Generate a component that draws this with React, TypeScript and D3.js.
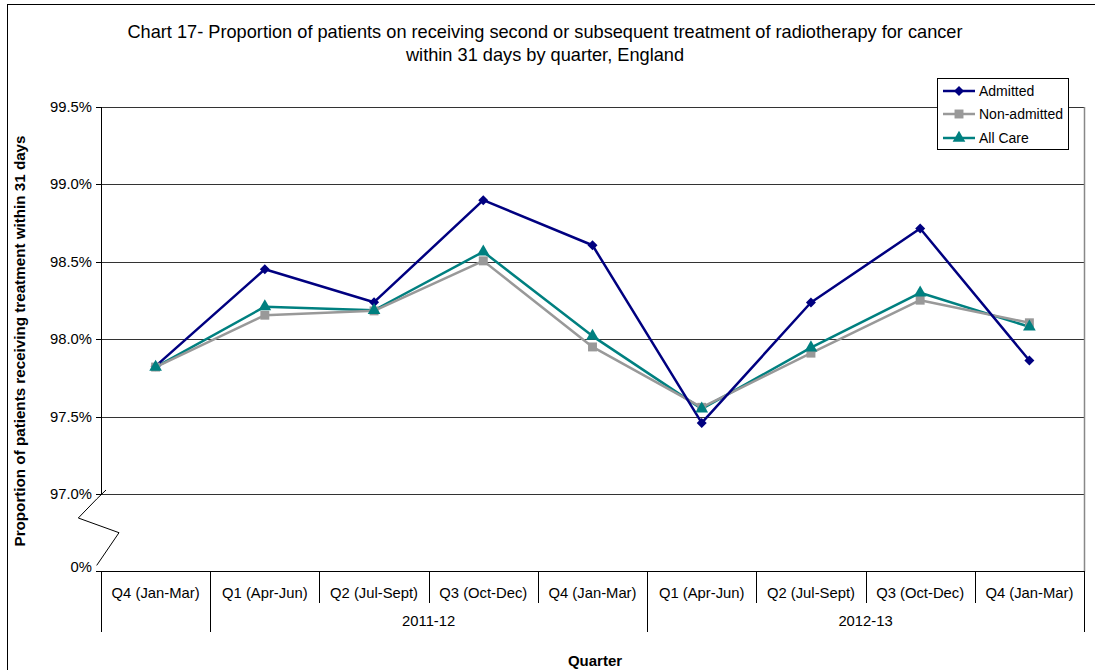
import React from "react";
import * as d3 from "d3";

const categories = [
  "Q4 (Jan-Mar)", "Q1 (Apr-Jun)", "Q2 (Jul-Sept)", "Q3 (Oct-Dec)", "Q4 (Jan-Mar)",
  "Q1 (Apr-Jun)", "Q2 (Jul-Sept)", "Q3 (Oct-Dec)", "Q4 (Jan-Mar)",
];
const groups = [
  { label: "", start: 0, end: 1 },
  { label: "2011-12", start: 1, end: 5 },
  { label: "2012-13", start: 5, end: 9 },
];
const admitted = [97.826, 98.452, 98.239, 98.898, 98.607, 97.459, 98.237, 98.715, 97.862];
const nonAdmitted = [97.82, 98.155, 98.183, 98.506, 97.95, 97.56, 97.91, 98.252, 98.106];
const allCare = [97.82, 98.21, 98.187, 98.565, 98.02, 97.55, 97.945, 98.30, 98.08];
const yTicks = [97.0, 97.5, 98.0, 98.5, 99.0, 99.5];

const series = [
  { name: "Admitted", values: admitted, color: "#000080", symbol: d3.symbolSquare, size: 50, rotate: 45 },
  { name: "Non-admitted", values: nonAdmitted, color: "#999999", symbol: d3.symbolSquare, size: 80, rotate: 0 },
  { name: "All Care", values: allCare, color: "#008080", symbol: d3.symbolTriangle, size: 70, rotate: 0 },
];

const FONT = "'Liberation Sans', Arial, sans-serif";

export default function App() {
  const left = 101, right = 1084, top = 107, axisY = 494;
  const bandH = 77.4;
  const bottom = axisY + bandH; // 0% baseline
  const x = d3.scaleBand<number>().domain(d3.range(categories.length)).range([left, right]).paddingInner(0).paddingOuter(0);
  const y = d3.scaleLinear().domain([97, 99.5]).range([axisY, top]);
  const cx = (i: number) => (x(i) as number) + x.bandwidth() / 2;
  const line = d3.line<number>().x((_, i) => cx(i)).y((v) => y(v));

  return (
    <svg width={1095} height={670} style={{ position: "absolute", left: 0, top: 0, background: "#fff" }} fontFamily={FONT}>
      <rect x={0} y={0} width={1095} height={670} fill="#fff" />
      <rect x={7.5} y={4.5} width={1200} height={800} fill="none" stroke="#000" strokeWidth={1} />
      {/* Title */}
      <text x={545} y={38} textAnchor="middle" fontSize={18.2}>
        Chart 17- Proportion of patients on receiving second or subsequent treatment of radiotherapy for cancer
      </text>
      <text x={545} y={61} textAnchor="middle" fontSize={18.2}>within 31 days by quarter, England</text>

      {/* gridlines */}
      {yTicks.map((t) => (
        <line key={t} x1={left} x2={right} y1={Math.round(y(t)) + 0.5} y2={Math.round(y(t)) + 0.5} stroke="#333" strokeWidth={1} />
      ))}
      {/* plot border right */}
      <line x1={right + 0.5} x2={right + 0.5} y1={top} y2={bottom} stroke="#888" strokeWidth={1.5} />
      {/* y axis */}
      <line x1={left + 0.5} x2={left + 0.5} y1={top} y2={Math.round(axisY) + 0.5} stroke="#000" />
      {yTicks.map((t) => (
        <g key={"t" + t}>
          <line x1={96} x2={left} y1={Math.round(y(t)) + 0.5} y2={Math.round(y(t)) + 0.5} stroke="#000" />
          <text x={92} y={y(t) + 5} textAnchor="end" fontSize={14.8}>{t.toFixed(1)}%</text>
        </g>
      ))}
      {/* axis break */}
      <path
        d={`M106,${axisY - 4} L96.7,${axisY + 5} L78.3,${axisY + 24} L119,${axisY + 38.7} L96.7,${bottom - 6}`}
        fill="none" stroke="#000" strokeWidth={1}
      />
      <line x1={96} x2={left} y1={Math.round(bottom) + 0.5} y2={Math.round(bottom) + 0.5} stroke="#000" />
      <text x={92} y={bottom + 1} textAnchor="end" fontSize={14.8}>0%</text>

      {/* x axis */}
      <line x1={left} x2={right + 1} y1={Math.round(bottom) + 0.5} y2={Math.round(bottom) + 0.5} stroke="#000" />
      {d3.range(categories.length + 1).map((i) => {
        const isGroup = groups.some((g) => g.start === i) || i === categories.length;
        const xx = Math.round(i < categories.length ? (x(i) as number) : right) + 0.5;
        return <line key={"d" + i} x1={xx} x2={xx} y1={bottom} y2={isGroup ? 632 : 603} stroke="#000" />;
      })}
      {categories.map((c, i) => (
        <text key={"c" + i} x={cx(i)} y={598} textAnchor="middle" fontSize={14.8}>{c}</text>
      ))}
      {groups.map((g) => (
        <text key={"g" + g.start} x={((x(g.start) as number) + (g.end < categories.length ? (x(g.end) as number) : right)) / 2} y={626} textAnchor="middle" fontSize={14.8}>
          {g.label}
        </text>
      ))}

      {/* axis titles */}
      <text x={595} y={666} textAnchor="middle" fontSize={15} fontWeight="bold">Quarter</text>
      <text transform={`translate(25,341) rotate(-90)`} textAnchor="middle" fontSize={15.2} fontWeight="bold">
        Proportion of patients receiving treatment within 31 days
      </text>

      {/* series */}
      {series.slice().reverse().map((s) => (
        <g key={s.name}>
          <path d={line(s.values) as string} fill="none" stroke={s.color} strokeWidth={2.5} strokeLinejoin="round" />
        </g>
      ))}
      {series.map((s) => (
        <g key={"m" + s.name}>
          {s.values.map((v, i) => (
            <path key={i} d={d3.symbol(s.symbol, s.size)() as string} transform={`translate(${cx(i)},${y(v)}) rotate(${s.rotate})`} fill={s.color} />
          ))}
        </g>
      ))}

      {/* legend */}
      <rect x={937.5} y={78.5} width={131} height={71} fill="#fff" stroke="#000" />
      {series.map((s, i) => {
        const ly = [91, 114, 138][i];
        return (
          <g key={"l" + s.name}>
            <line x1={943} x2={975} y1={ly} y2={ly} stroke={s.color} strokeWidth={2.5} />
            <path d={d3.symbol(s.symbol, s.size)() as string} transform={`translate(959,${ly}) rotate(${s.rotate})`} fill={s.color} />
            <text x={979} y={ly + 5} fontSize={14}>{s.name}</text>
          </g>
        );
      })}
    </svg>
  );
}
